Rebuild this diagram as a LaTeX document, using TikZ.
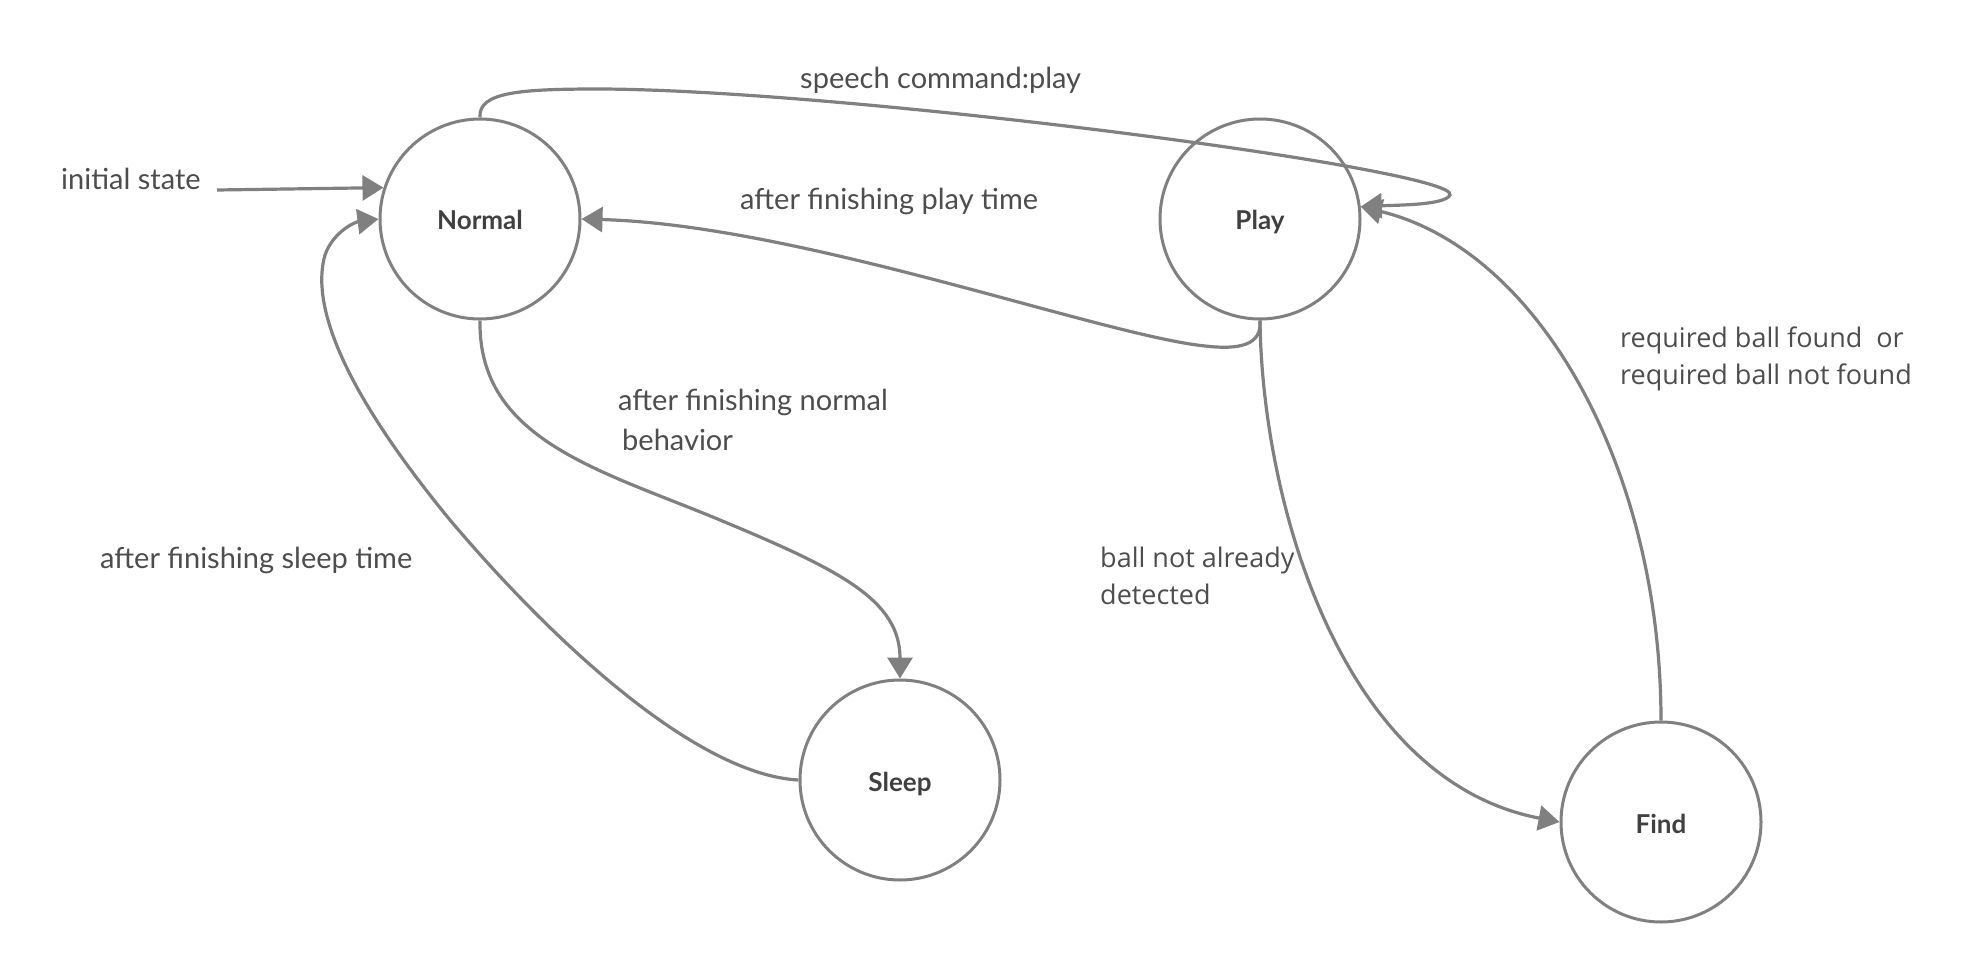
\documentclass[tikz,border=0pt]{standalone}
\usepackage{fontspec}
\setmainfont{Lato}
\newfontfamily\osans{Open Sans}
\usetikzlibrary{arrows.meta}
\definecolor{linegray}{HTML}{808080}
\definecolor{textgray}{HTML}{4D4D4D}
\definecolor{labelgray}{HTML}{404040}
\tikzset{
  state/.style={circle, draw=linegray, line width=3pt, minimum size=200pt, inner sep=0pt,
    text height=22pt, text depth=0pt,
    font=\fontsize{26}{30}\selectfont\bfseries, text=labelgray},
  conn/.style={draw=linegray, line width=3.2pt, -{Triangle[length=21pt,width=25pt]}},
  lbl/.style={anchor=base west, inner sep=0pt, font=\fontsize{29}{40}\selectfont, text=textgray, align=left},
  lblo/.style={anchor=base west, inner sep=0pt, font=\osans\fontsize{27}{37}\selectfont, text=textgray, align=left},
}
\begin{document}
\begin{tikzpicture}[x=1pt,y=-1pt]
\useasboundingbox (0,0) rectangle (1971,960);
\node[state] (N) at (480,219) {Normal};
\node[state] (P) at (1260,219) {Play};
\node[state] (S) at (900,780) {Sleep};
\node[state] (F) at (1661,822) {Find};

\coordinate (i0) at (217,190);
\draw[conn] (i0) -- (N.162);

% speech command: Normal -> Play
\draw[conn] (N.north) .. controls (478,92) and (520,89) .. (600,89)
  .. controls (850,90) and (1460,170) .. (1450,195)
  .. controls (1445,205) and (1400,205) .. (P.7);

% Play -> Normal
\draw[conn] (P.south) .. controls (1262,345) and (1240,350) .. (1205,346)
  .. controls (1100,335) and (800,225) .. (N.east);

% Play -> Find
\draw[conn] (P.south) .. controls (1262,500) and (1340,780) .. (F.west);

% Find -> Play
\draw[conn] (F.north) .. controls (1661,470) and (1540,250) .. (P.7);

% Normal -> Sleep
\draw[conn] (N.south) .. controls (478,440) and (600,470) .. (720,520)
  .. controls (840,570) and (900,600) .. (S.north);

% Sleep -> Normal
\draw[conn] (S.west) .. controls (700,775) and (560,650) .. (450,520)
  .. controls (335,380) and (312,300) .. (325,255)
  .. controls (333,232) and (355,222) .. (N.west);

\node[lbl] (l1) at (61,190) {initial state};
\node[lbl] (l2) at (800,89) {speech command:play};
\node[lbl] (l3) at (740,210) {after finishing play time};
\node[lbl] (l4) at (618,450) {after finishing normal\\\hspace*{4pt}behavior};
\node[lbl] (l5) at (100,568) {after finishing sleep time};
\node[lblo] (l6) at (1100,604) {ball not already\\detected};
\node[lblo] (l7) at (1620,384) {required ball found~ or\\required ball not found};
\end{tikzpicture}
\end{document}
